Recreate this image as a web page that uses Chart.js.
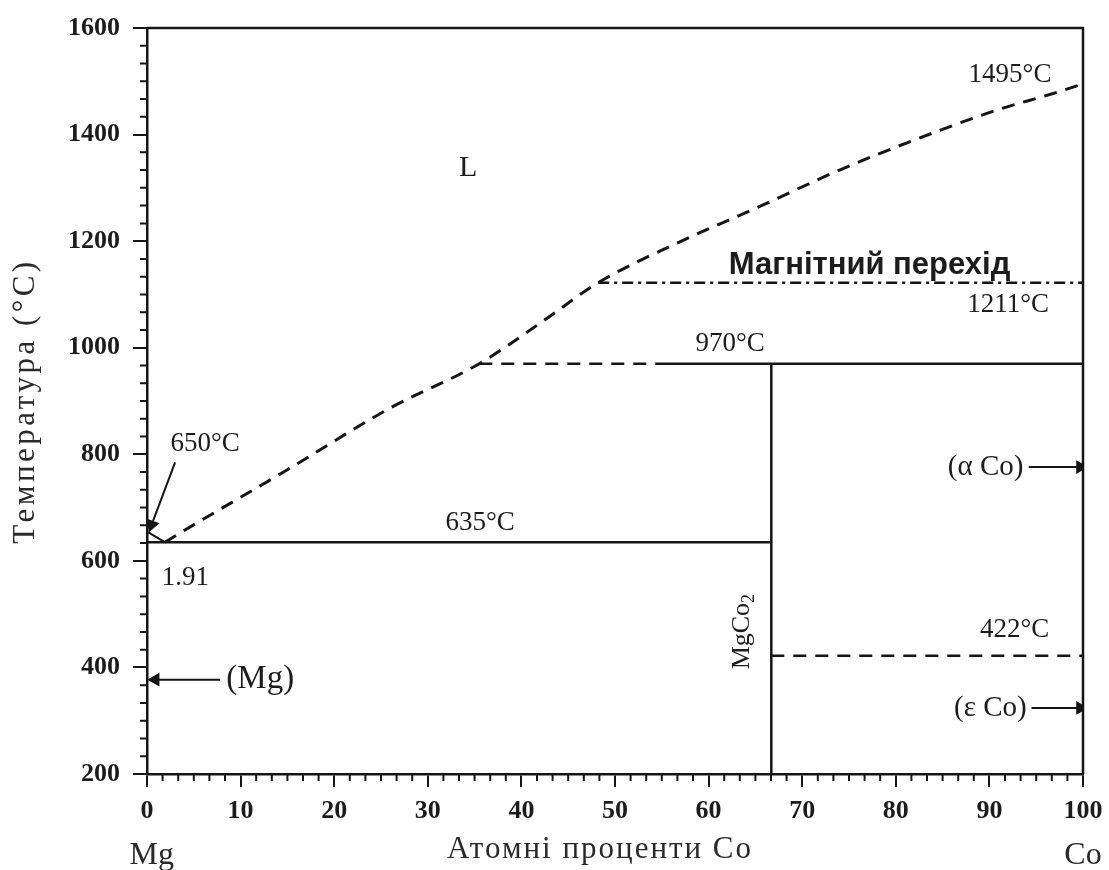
<!DOCTYPE html>
<html>
<head>
<meta charset="utf-8">
<script src="https://cdn.jsdelivr.net/npm/chart.js@4/dist/chart.umd.min.js"></script>
<style>
  html, body { margin: 0; padding: 0; background: #fff; }
</style>
</head>
<body>
<canvas id="myChart" width="1109" height="870"></canvas>
<script>
// axis ticks
const xTicks = [0, 10, 20, 30, 40, 50, 60, 70, 80, 90, 100];
const yTicks = [200, 400, 600, 800, 1000, 1200, 1400, 1600];

// liquidus (dashed), at% Co vs temperature
const liquidusX = [1.91, 3.5, 15, 26, 35.5, 42, 48.2, 57.1, 65.2, 73.8, 82.3, 90.8, 96.8, 100];
const liquidusT = [635, 652, 771, 887, 970, 1046, 1122, 1200, 1263, 1332, 1392, 1446, 1477, 1495];

// short solid piece from Mg melting point to eutectic
const mgEndX = [0, 1.91];
const mgEndT = [655, 635];

const eutecticX = [0, 66.7];
const eutecticT = [635, 635];

const peritecticDashX = [35.5, 54.3];
const peritecticDashT = [970, 970];
const peritecticX = [54.3, 100];
const peritecticT = [970, 970];

const magneticX = [48.2, 100];
const magneticT = [1122, 1122];

const compoundX = [66.7, 66.7];
const compoundT = [200, 970];

const allotropicX = [66.7, 100];
const allotropicT = [422, 422];

// arrows: tail -> tip
const arrowMgX = [7.8, 0.9];
const arrowMgT = [377, 377];
const arrowAlphaX = [94.2, 99.7];
const arrowAlphaT = [776, 776];
const arrowEpsX = [94.5, 99.7];
const arrowEpsT = [324, 324];
const arrow650X = [3.0, 0.5];
const arrow650T = [785, 668];

// text notes (text, x, T)
const noteText = ["L", "1495°C", "Магнітний перехід", "1211°C", "970°C", "650°C", "635°C", "1.91", "(Mg)", "422°C", "(α Co)", "(ε Co)"];
const noteX = [34.3, 92.2, 77.2, 92.0, 62.3, 6.2, 35.6, 4.1, 12.1, 92.7, 89.6, 90.1];
const noteT = [1337, 1512, 1155, 1080, 1007, 820, 671, 568, 377, 470, 776, 324];

const ink = "#151515";
const serif = "'Liberation Serif', 'DejaVu Serif', serif";

function pts(xs, ys) {
  return xs.map((x, i) => ({ x: x, y: ys[i] }));
}

function line(data, dash, width) {
  return {
    type: "scatter",
    data: data,
    showLine: true,
    borderColor: ink,
    borderWidth: width || 2.5,
    borderDash: dash || [],
    pointRadius: 0,
    tension: 0,
  };
}

function arrow(data, rot) {
  return {
    type: "scatter",
    data: data,
    showLine: true,
    borderColor: ink,
    borderWidth: 2,
    backgroundColor: ink,
    pointStyle: "triangle",
    rotation: rot,
    pointRadius: (ctx) => (ctx.dataIndex === data.length - 1 ? 6 : 0),
    pointHoverRadius: 0,
  };
}

const noteFont = {
  "L": "30px " + serif,
  "Магнітний перехід": "bold 31px 'Liberation Sans', Arial, sans-serif",
  "(Mg)": "33px " + serif,
  "(α Co)": "29px " + serif,
  "(ε Co)": "29px " + serif,
};

const frame = {
  id: "frame",
  afterDraw(chart) {
    const ctx = chart.ctx;
    const a = chart.chartArea;
    const xs = chart.scales.x;
    const ys = chart.scales.y;
    ctx.save();
    ctx.strokeStyle = ink;
    ctx.lineWidth = 2.5;
    ctx.beginPath();
    ctx.moveTo(a.left, a.top);
    ctx.lineTo(a.right, a.top);
    ctx.lineTo(a.right, a.bottom);
    ctx.stroke();

    // minor ticks
    ctx.lineWidth = 2;
    ctx.beginPath();
    for (let i = 0; i <= 60; i++) {
      if (i % 6 === 0) continue;
      const px = xs.getPixelForValue(i * 10 / 6);
      ctx.moveTo(px, a.bottom);
      ctx.lineTo(px, a.bottom + 7);
    }
    for (let i = 0; i <= 42; i++) {
      if (i % 6 === 0) continue;
      const py = ys.getPixelForValue(200 + i * 200 / 6);
      ctx.moveTo(a.left - 7, py);
      ctx.lineTo(a.left, py);
    }
    ctx.stroke();

    // notes
    ctx.fillStyle = "#1c1c1c";
    ctx.textAlign = "center";
    ctx.textBaseline = "middle";
    noteText.forEach((t, i) => {
      ctx.font = noteFont[t] || "27px " + serif;
      ctx.fillText(t, xs.getPixelForValue(noteX[i]), ys.getPixelForValue(noteT[i]));
    });

    // MgCo2, rotated
    ctx.save();
    ctx.translate(xs.getPixelForValue(63.6), ys.getPixelForValue(470));
    ctx.rotate(-Math.PI / 2);
    ctx.font = "26px " + serif;
    ctx.textAlign = "left";
    const w = ctx.measureText("MgCo").width;
    ctx.fillText("MgCo", -w / 2 - 6, 0);
    ctx.font = "18px " + serif;
    ctx.fillText("2", w / 2 - 6, 7);
    ctx.restore();

    // axis titles and end labels
    ctx.fillStyle = "#2a2a2a";
    ctx.font = "32px " + serif;
    ctx.fillText("Mg", xs.getPixelForValue(0.5), a.bottom + 82);
    ctx.fillText("Co", xs.getPixelForValue(100), a.bottom + 82);
    ctx.letterSpacing = "2px";
    ctx.font = "31px " + serif;
    ctx.fillText("Атомні проценти Co", xs.getPixelForValue(48.4), a.bottom + 76);

    ctx.save();
    ctx.translate(26, ys.getPixelForValue(900));
    ctx.rotate(-Math.PI / 2);
    ctx.letterSpacing = "3.5px";
    ctx.fillText("Температура (°C)", 0, 0);
    ctx.restore();
    ctx.restore();
  },
};

new Chart(document.getElementById("myChart"), {
  type: "scatter",
  data: {
    datasets: [
      Object.assign(line(pts(liquidusX, liquidusT), [13, 9], 3), { cubicInterpolationMode: "monotone" }),
      line(pts(mgEndX, mgEndT), [], 2),
      line(pts(eutecticX, eutecticT)),
      line(pts(peritecticDashX, peritecticDashT), [13, 9]),
      line(pts(peritecticX, peritecticT)),
      line(pts(magneticX, magneticT), [11, 5, 3, 5]),
      line(pts(compoundX, compoundT)),
      line(pts(allotropicX, allotropicT), [13, 9]),
      arrow(pts(arrowMgX, arrowMgT), -90),
      arrow(pts(arrowAlphaX, arrowAlphaT), 90),
      arrow(pts(arrowEpsX, arrowEpsT), 90),
      arrow(pts(arrow650X, arrow650T), 200),
    ],
  },
  options: {
    responsive: false,
    animation: false,
    layout: { padding: { top: 28, right: 26, left: 0, bottom: 0 } },
    plugins: { legend: { display: false }, tooltip: { enabled: false } },
    scales: {
      x: {
        type: "linear",
        min: 0,
        max: 100,
        afterBuildTicks: (s) => { s.ticks = xTicks.map((v) => ({ value: v })); },
        afterFit: (s) => { s.height = 96; s.paddingLeft = 0; s.paddingRight = 0; },
        grid: { drawOnChartArea: false, tickLength: 13, color: ink, lineWidth: 2 },
        border: { color: ink, width: 2.5 },
        ticks: {
          color: "#1c1c1c",
          padding: 9,
          maxRotation: 0,
          font: { family: serif, size: 26, weight: "bold" },
          callback: (v) => String(v),
        },
      },
      y: {
        type: "linear",
        min: 200,
        max: 1600,
        afterBuildTicks: (s) => { s.ticks = yTicks.map((v) => ({ value: v })); },
        afterFit: (s) => { s.width = 147; s.paddingTop = 0; s.paddingBottom = 0; },
        grid: { drawOnChartArea: false, tickLength: 14, color: ink, lineWidth: 2 },
        border: { color: ink, width: 2.5 },
        ticks: {
          color: "#1c1c1c",
          padding: 13,
          font: { family: serif, size: 26, weight: "bold" },
          callback: (v) => String(v),
        },
      },
    },
  },
  plugins: [frame],
});
</script>
</body>
</html>
